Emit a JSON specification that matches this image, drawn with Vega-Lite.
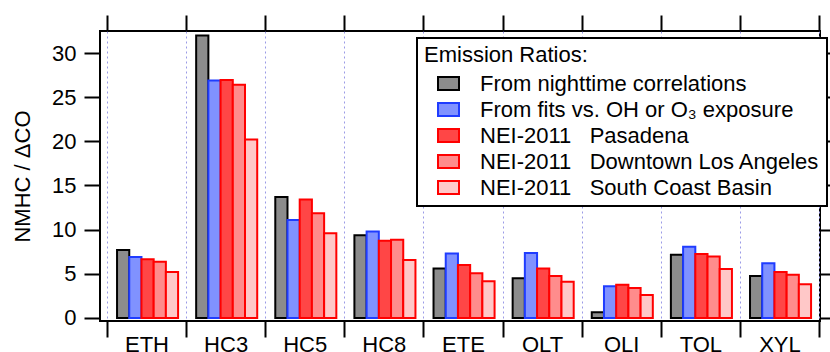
{
  "$schema": "https://vega.github.io/schema/vega-lite/v6.json",
  "width": 720,
  "height": 290,
  "autosize": {"type": "none"},
  "padding": {"left": 100, "top": 31, "right": 10, "bottom": 31},
  "background": "white",
  "data": {"values": [
    {"cat": "ETH", "series": "From nighttime correlations", "value": 7.7},
    {"cat": "ETH", "series": "From fits vs. OH or O₃ exposure", "value": 6.9},
    {"cat": "ETH", "series": "NEI-2011\u00a0\u00a0\u00a0Pasadena", "value": 6.65},
    {"cat": "ETH", "series": "NEI-2011\u00a0\u00a0\u00a0Downtown Los Angeles", "value": 6.35},
    {"cat": "ETH", "series": "NEI-2011\u00a0\u00a0\u00a0South Coast Basin", "value": 5.2},
    {"cat": "HC3", "series": "From nighttime correlations", "value": 32.0},
    {"cat": "HC3", "series": "From fits vs. OH or O₃ exposure", "value": 26.9},
    {"cat": "HC3", "series": "NEI-2011\u00a0\u00a0\u00a0Pasadena", "value": 26.95},
    {"cat": "HC3", "series": "NEI-2011\u00a0\u00a0\u00a0Downtown Los Angeles", "value": 26.4},
    {"cat": "HC3", "series": "NEI-2011\u00a0\u00a0\u00a0South Coast Basin", "value": 20.2},
    {"cat": "HC5", "series": "From nighttime correlations", "value": 13.7},
    {"cat": "HC5", "series": "From fits vs. OH or O₃ exposure", "value": 11.1},
    {"cat": "HC5", "series": "NEI-2011\u00a0\u00a0\u00a0Pasadena", "value": 13.4},
    {"cat": "HC5", "series": "NEI-2011\u00a0\u00a0\u00a0Downtown Los Angeles", "value": 11.85},
    {"cat": "HC5", "series": "NEI-2011\u00a0\u00a0\u00a0South Coast Basin", "value": 9.6},
    {"cat": "HC8", "series": "From nighttime correlations", "value": 9.35},
    {"cat": "HC8", "series": "From fits vs. OH or O₃ exposure", "value": 9.8},
    {"cat": "HC8", "series": "NEI-2011\u00a0\u00a0\u00a0Pasadena", "value": 8.75},
    {"cat": "HC8", "series": "NEI-2011\u00a0\u00a0\u00a0Downtown Los Angeles", "value": 8.85},
    {"cat": "HC8", "series": "NEI-2011\u00a0\u00a0\u00a0South Coast Basin", "value": 6.55},
    {"cat": "ETE", "series": "From nighttime correlations", "value": 5.6},
    {"cat": "ETE", "series": "From fits vs. OH or O₃ exposure", "value": 7.3},
    {"cat": "ETE", "series": "NEI-2011\u00a0\u00a0\u00a0Pasadena", "value": 6.0},
    {"cat": "ETE", "series": "NEI-2011\u00a0\u00a0\u00a0Downtown Los Angeles", "value": 5.05},
    {"cat": "ETE", "series": "NEI-2011\u00a0\u00a0\u00a0South Coast Basin", "value": 4.15},
    {"cat": "OLT", "series": "From nighttime correlations", "value": 4.5},
    {"cat": "OLT", "series": "From fits vs. OH or O₃ exposure", "value": 7.35},
    {"cat": "OLT", "series": "NEI-2011\u00a0\u00a0\u00a0Pasadena", "value": 5.6},
    {"cat": "OLT", "series": "NEI-2011\u00a0\u00a0\u00a0Downtown Los Angeles", "value": 4.75},
    {"cat": "OLT", "series": "NEI-2011\u00a0\u00a0\u00a0South Coast Basin", "value": 4.1},
    {"cat": "OLI", "series": "From nighttime correlations", "value": 0.65},
    {"cat": "OLI", "series": "From fits vs. OH or O₃ exposure", "value": 3.6},
    {"cat": "OLI", "series": "NEI-2011\u00a0\u00a0\u00a0Pasadena", "value": 3.75},
    {"cat": "OLI", "series": "NEI-2011\u00a0\u00a0\u00a0Downtown Los Angeles", "value": 3.4},
    {"cat": "OLI", "series": "NEI-2011\u00a0\u00a0\u00a0South Coast Basin", "value": 2.6},
    {"cat": "TOL", "series": "From nighttime correlations", "value": 7.15},
    {"cat": "TOL", "series": "From fits vs. OH or O₃ exposure", "value": 8.05},
    {"cat": "TOL", "series": "NEI-2011\u00a0\u00a0\u00a0Pasadena", "value": 7.25},
    {"cat": "TOL", "series": "NEI-2011\u00a0\u00a0\u00a0Downtown Los Angeles", "value": 6.95},
    {"cat": "TOL", "series": "NEI-2011\u00a0\u00a0\u00a0South Coast Basin", "value": 5.55},
    {"cat": "XYL", "series": "From nighttime correlations", "value": 4.75},
    {"cat": "XYL", "series": "From fits vs. OH or O₃ exposure", "value": 6.2},
    {"cat": "XYL", "series": "NEI-2011\u00a0\u00a0\u00a0Pasadena", "value": 5.2},
    {"cat": "XYL", "series": "NEI-2011\u00a0\u00a0\u00a0Downtown Los Angeles", "value": 4.9},
    {"cat": "XYL", "series": "NEI-2011\u00a0\u00a0\u00a0South Coast Basin", "value": 3.8}
  ]},
  "layer": [
    {
      "mark": {"type": "bar", "strokeWidth": 2},
      "encoding": {
        "x": {
          "field": "cat", "type": "nominal", "sort": null,
          "scale": {"paddingInner": 0, "paddingOuter": 0.05, "align": 0.875},
          "axis": {
            "orient": "bottom", "title": null, "tickBand": "extent",
            "domain": false, "ticks": true, "tickSize": 16, "tickWidth": 2, "tickColor": "black",
            "labelFontSize": 22, "labelColor": "black", "labelPadding": -3, "labelAngle": 0,
            "grid": true, "gridColor": "#9a9ae6", "gridDash": [2, 3], "gridWidth": 1
          }
        },
        "xOffset": {
          "field": "series", "type": "nominal", "sort": null,
          "scale": {"paddingInner": 0, "paddingOuter": 0.74, "align": 0.56}
        },
        "y": {
          "field": "value", "type": "quantitative",
          "scale": {"domain": [-0.35, 32.5], "nice": false, "zero": false},
          "axis": {
            "title": "NMHC / ΔCO", "titleFontSize": 22, "titleFontWeight": "normal", "titleColor": "black", "titlePadding": 17,
            "values": [0, 5, 10, 15, 20, 25, 30], "domain": false,
            "tickSize": 16, "tickWidth": 2, "tickColor": "black",
            "labelFontSize": 22, "labelColor": "black", "labelPadding": 8, "grid": false
          }
        },
        "fill": {
          "field": "series", "type": "nominal", "sort": null,
          "scale": {
            "domain": ["From nighttime correlations", "From fits vs. OH or O₃ exposure", "NEI-2011\u00a0\u00a0\u00a0Pasadena", "NEI-2011\u00a0\u00a0\u00a0Downtown Los Angeles", "NEI-2011\u00a0\u00a0\u00a0South Coast Basin"],
            "range": ["#8c8c8c", "#8092ff", "#ff4646", "#ff8c8c", "#ffc8c8"]
          },
          "legend": {
            "title": "Emission Ratios:", "orient": "none", "legendX": 317, "legendY": 7,
            "strokeColor": "black", "fillColor": "white", "padding": 7,
            "titleFontSize": 22, "titleFontWeight": "normal", "titleColor": "black", "titlePadding": 5,
            "labelFontSize": 22, "labelColor": "black", "labelLimit": 600, "labelOffset": 20,
            "symbolType": "M-1,-0.62H1V0.62H-1Z", "symbolSize": 441, "symbolStrokeWidth": 2, "symbolOffset": 13,
            "rowPadding": 3
          }
        },
        "stroke": {
          "field": "series", "type": "nominal", "sort": null,
          "scale": {
            "domain": ["From nighttime correlations", "From fits vs. OH or O₃ exposure", "NEI-2011\u00a0\u00a0\u00a0Pasadena", "NEI-2011\u00a0\u00a0\u00a0Downtown Los Angeles", "NEI-2011\u00a0\u00a0\u00a0South Coast Basin"],
            "range": ["#000000", "#1f3cff", "#ff0000", "#ff0000", "#ff0000"]
          },
          "legend": {
            "title": "Emission Ratios:", "orient": "none", "legendX": 317, "legendY": 7,
            "strokeColor": "black", "fillColor": "white", "padding": 7,
            "titleFontSize": 22, "titleFontWeight": "normal", "titleColor": "black", "titlePadding": 5,
            "labelFontSize": 22, "labelColor": "black", "labelLimit": 600, "labelOffset": 20,
            "symbolType": "M-1,-0.62H1V0.62H-1Z", "symbolSize": 441, "symbolStrokeWidth": 2, "symbolOffset": 13,
            "rowPadding": 3
          }
        }
      }
    },
    {
      "mark": {"type": "rule", "opacity": 0},
      "encoding": {
        "x": {
          "field": "cat", "type": "nominal", "sort": null,
          "axis": {
            "orient": "top", "title": null, "tickBand": "extent", "labels": false,
            "domain": false, "tickSize": 16, "tickWidth": 2, "tickColor": "black", "grid": false
          }
        },
        "y": {
          "field": "value", "type": "quantitative",
          "axis": {
            "orient": "right", "title": null, "labels": false, "domain": false,
            "values": [0, 5, 10, 15, 20, 25, 30],
            "tickSize": 16, "tickWidth": 2, "tickColor": "black", "grid": false
          }
        }
      }
    }
  ],
  "resolve": {"axis": {"x": "independent", "y": "independent"}},
  "config": {
    "font": "Liberation Sans",
    "view": {"stroke": "black", "strokeWidth": 2},
    "axis": {"labelFont": "Liberation Sans", "titleFont": "Liberation Sans"},
    "legend": {"labelFont": "Liberation Sans", "titleFont": "Liberation Sans", "strokeWidth": 2}
  }
}
